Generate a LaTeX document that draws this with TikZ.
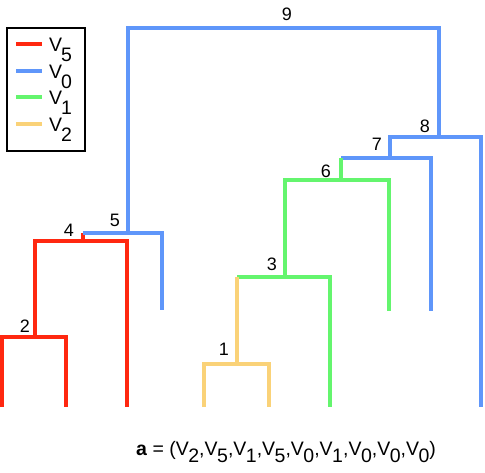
\documentclass[tikz,border=0pt]{standalone}
\usepackage{fontspec}
\setmainfont{Liberation Sans}
\definecolor{cred}{RGB}{255,40,16}
\definecolor{cblue}{RGB}{95,150,250}
\definecolor{cgreen}{RGB}{100,245,110}
\definecolor{cyellow}{RGB}{250,210,120}
\newcommand\legV[1]{V\kern-1pt\raisebox{-9.5pt}[0pt][0pt]{#1}}
\newcommand\botV[1]{V\kern-0.5pt\raisebox{-7.5pt}[0pt][0pt]{#1}}
\begin{document}
\begin{tikzpicture}[x=1pt,y=-1pt,
  br/.style={line width=3.2pt},
  lab/.style={font=\fontsize{18}{18}\selectfont, inner sep=0pt},
  legtxt/.style={font=\fontsize{19.5}{19.5}\selectfont, inner sep=0pt, anchor=base west}]
\useasboundingbox (0,0) rectangle (485,473);
% leaves
\coordinate (a1) at (2,407);
\coordinate (a2) at (66,407);
\coordinate (a3) at (127,407);
\coordinate (a4) at (162,310);
\coordinate (a5) at (204,407);
\coordinate (a6) at (269,407);
\coordinate (a7) at (330,407);
\coordinate (a8) at (389,311);
\coordinate (a9) at (431,311);
\coordinate (a10) at (481,407);
% internal
\coordinate (n1) at (237,364);
\coordinate (n1t) at (237,277);
\coordinate (n2) at (35,337);
\coordinate (n3) at (285,277);
\coordinate (h4) at (83,241);
\coordinate (n4) at (83,233);
\coordinate (n5) at (128,233);
\coordinate (n6) at (341,180);
\coordinate (n6t) at (341,158);
\coordinate (n7) at (390,158);
\coordinate (n8) at (439,137);
\coordinate (n9) at (283,28);
% red
\draw[br,cred] (a1) |- (n2) -| (a2);
\draw[br,cred] (n2) |- (h4) -| (a3);
\draw[br,cred] (h4) -- (n4);
% blue
\draw[br,cblue] (n4) -- (n5) -| (a4);
\draw[br,cblue] (n5) |- (n9) -| (n8);
\draw[br,cblue] (n7) |- (n8) -| (a10);
\draw[br,cblue] (n6t) -- (n7) -| (a9);
% green
\draw[br,cgreen] (n6t) -- (n6);
\draw[br,cgreen] (n3) |- (n6) -| (a8);
\draw[br,cgreen] (n1t) -- (n3) -| (a7);
% yellow
\draw[br,cyellow] (n1t) -- (n1);
\draw[br,cyellow] (a5) |- (n1) -| (a6);
% labels
\node[lab] (l1) at (224,349) {1};
\node[lab] (l2) at (25,326) {2};
\node[lab] (l3) at (272,264) {3};
\node[lab] (l4) at (69,230) {4};
\node[lab] (l5) at (115,220) {5};
\node[lab] (l6) at (326,171) {6};
\node[lab] (l7) at (377,144) {7};
\node[lab] (l8) at (425,126) {8};
\node[lab] (l9) at (287,14) {9};
% legend
\node[draw=black, line width=1.8pt, minimum width=78pt, minimum height=123pt, anchor=north west, inner sep=0pt] (leg) at (6,27) {};
\draw[br,cred] (16,44) coordinate (k1) -- (42,44) coordinate (k1e);
\draw[br,cblue] (16,71) coordinate (k2) -- (42,71) coordinate (k2e);
\draw[br,cgreen] (16,97) coordinate (k3) -- (42,97) coordinate (k3e);
\draw[br,cyellow] (16,124) coordinate (k4) -- (42,124) coordinate (k4e);
\node[legtxt] (t1) at (49,52) {\legV{5}};
\node[legtxt] (t2) at (49,79) {\legV{0}};
\node[legtxt] (t3) at (49,105) {\legV{1}};
\node[legtxt] (t4) at (49,132) {\legV{2}};
% bottom formula
\node[font=\fontsize{19.5}{19.5}\selectfont, inner sep=0pt, anchor=base west] (eq) at (136,455)
  {\textbf{a} = (\botV{2},\botV{5},\botV{1},\botV{5},\botV{0},\botV{1},\botV{0},\botV{0},\botV{0})};
\end{tikzpicture}
\end{document}
